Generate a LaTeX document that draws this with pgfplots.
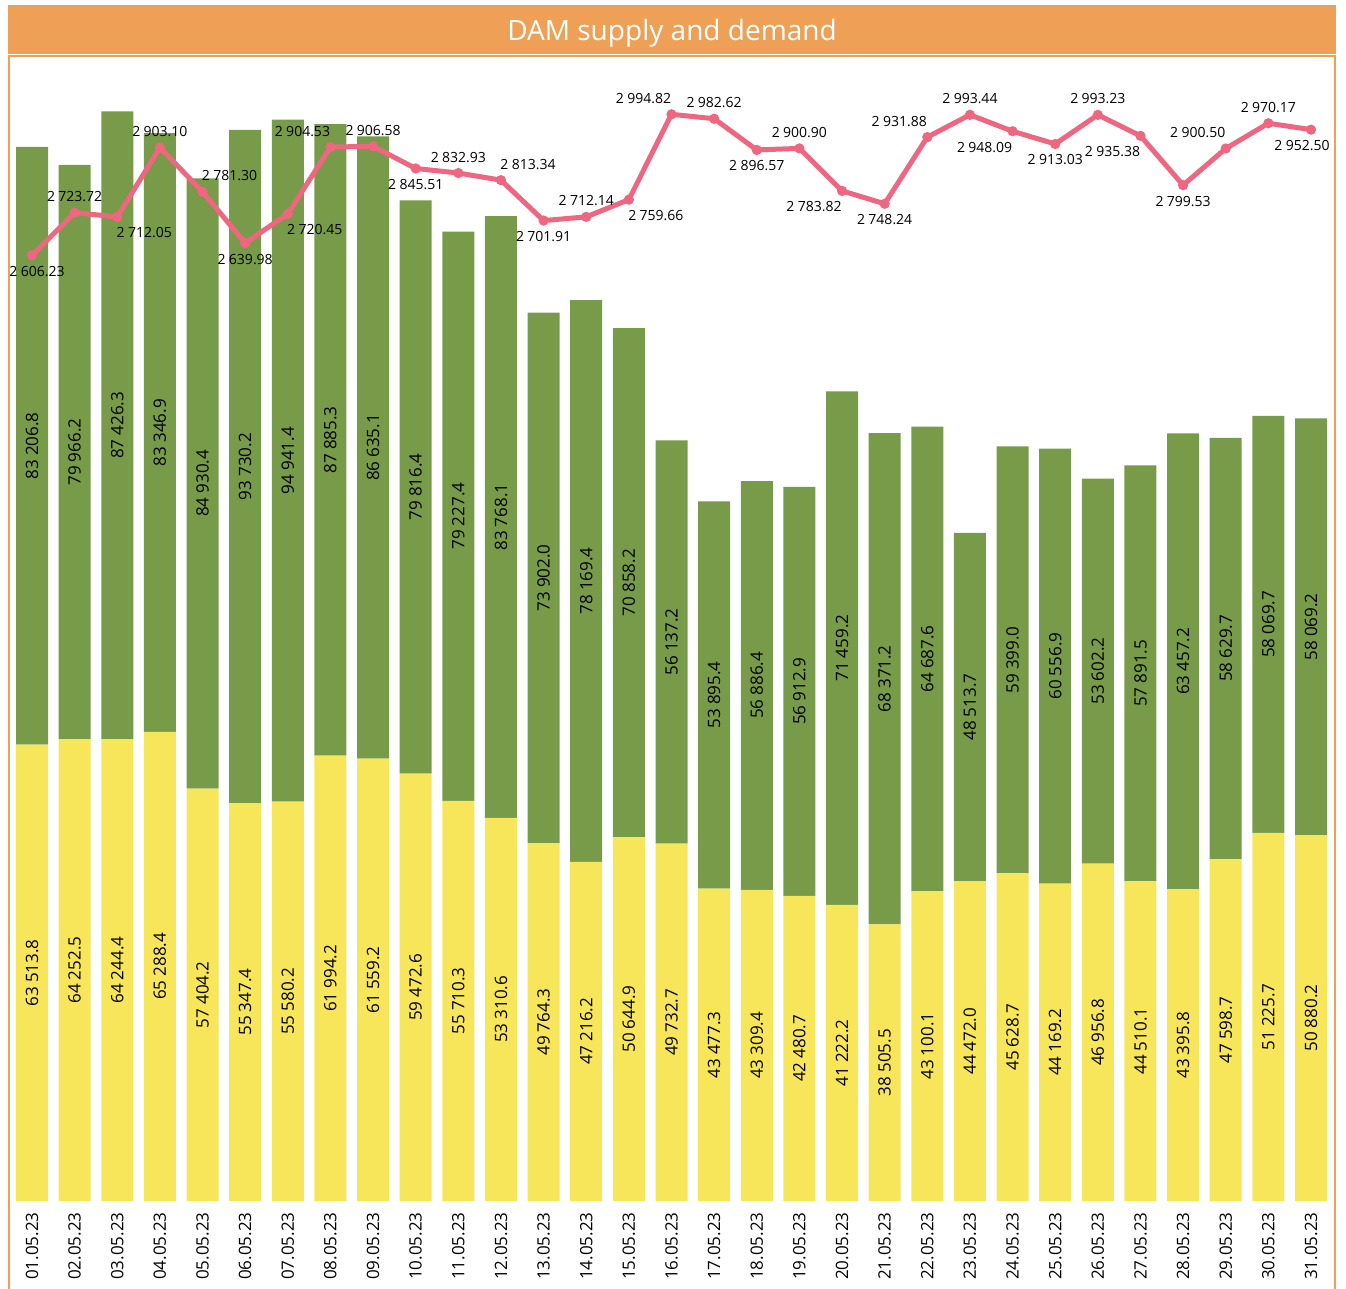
\documentclass[border=0pt]{standalone}
\usepackage{fontspec}
\setmainfont{Open Sans}
\usepackage{pgfplots}
\pgfplotsset{compat=1.18}
\usepackage{pgfplotstable}
\definecolor{ttl}{HTML}{EEA056}
\definecolor{grn}{HTML}{779B48}
\definecolor{ylw}{HTML}{F7E65A}
\definecolor{pnk}{HTML}{EF6681}

\pgfplotstableread{
x d s
0 63513.8 83206.8
1 64252.5 79966.2
2 64244.4 87426.3
3 65288.4 83346.9
4 57404.2 84930.4
5 55347.4 93730.2
6 55580.2 94941.4
7 61994.2 87885.3
8 61559.2 86635.1
9 59472.6 79816.4
10 55710.3 79227.4
11 53310.6 83768.1
12 49764.3 73902.0
13 47216.2 78169.4
14 50644.9 70858.2
15 49732.7 56137.2
16 43477.3 53895.4
17 43309.4 56886.4
18 42480.7 56912.9
19 41222.2 71459.2
20 38505.5 68371.2
21 43100.1 64687.6
22 44472.0 48513.7
23 45628.7 59399.0
24 44169.2 60556.9
25 46956.8 53602.2
26 44510.1 57891.5
27 43395.8 63457.2
28 47598.7 58629.7
29 51225.7 58069.7
30 50880.2 58069.2
}\bars

\pgfplotstableread{
x y p xs
0 2606.23 -1 2.5
1 2723.72 1 0
2 2712.05 -1 13.5
3 2903.10 1 0
4 2781.30 1 13.5
5 2639.98 -1 0
6 2720.45 -1 13.5
7 2904.53 1 -14
8 2906.58 1 0
9 2845.51 -1 0
10 2832.93 1 0
11 2813.34 1 13.5
12 2701.91 -1 0
13 2712.14 1 0
14 2759.66 -1 13.5
15 2994.82 1 -14
16 2982.62 1 0
17 2896.57 -1 0
18 2900.90 1 0
19 2783.82 -1 -14
20 2748.24 -1 0
21 2931.88 1 -14
22 2993.44 1 0
23 2948.09 -1 -14
24 2913.03 -1 0
25 2993.23 1 0
26 2935.38 -1 -14
27 2799.53 -1 0
28 2900.50 1 -14
29 2970.17 1 0
30 2952.50 -1 -4.5
}\price

\pgfplotsset{base/.style={scale only axis, width=663pt, height=571.5pt,
  at={(0pt,0pt)}, anchor=south west, xmin=-0.5395, xmax=30.563,
  axis line style={draw=none}, tick style={draw=none}, ytick=\empty,
  clip=false, /pgf/number format/assume math mode=true}}

\begin{document}
\begin{tikzpicture}
\path[use as bounding box] (-4.5pt,-44pt) rectangle (668.5pt,600.5pt);
\fill[ttl] (-0.5pt,573.5pt) rectangle (663.5pt,598pt);
\node[text=white, font=\fontsize{14}{16}\selectfont] at (331.5pt,584pt) {DAM supply and demand};
\draw[ttl, line width=1pt] (0pt,-44pt) -- (0pt,572.3pt) -- (663pt,572.3pt) -- (663pt,-44pt);

\begin{axis}[base, ybar stacked, bar width=16pt, ymin=0, ymax=159100,
  xtick={0,...,30},
  xticklabels={01.05.23,02.05.23,03.05.23,04.05.23,05.05.23,06.05.23,07.05.23,08.05.23,09.05.23,10.05.23,11.05.23,12.05.23,13.05.23,14.05.23,15.05.23,16.05.23,17.05.23,18.05.23,19.05.23,20.05.23,21.05.23,22.05.23,23.05.23,24.05.23,25.05.23,26.05.23,27.05.23,28.05.23,29.05.23,30.05.23,31.05.23},
  xticklabel style={rotate=90, anchor=east, inner sep=0pt, font=\fontsize{8.5}{10}\selectfont},
  xticklabel shift=5.5pt]
\addplot[fill=ylw, draw=none] table[x=x, y=d]{\bars};
\addplot[fill=grn, draw=none] table[x=x, y=s]{\bars};
\end{axis}

\begin{axis}[base, ymin=0, ymax=159100, xtick=\empty,
  nodes near coords, point meta=explicit,
  every node near coord/.append style={rotate=90, anchor=center, text=black, font=\fontsize{8.5}{10}\selectfont},
  /pgf/number format/.cd, fixed, fixed zerofill, precision=1, 1000 sep={\kern0.24em}]
\addplot[draw=none, mark=none] table[x=x, y expr=\thisrow{d}/2, meta=d]{\bars};
\addplot[draw=none, mark=none] table[x=x, y expr=\thisrow{d}+\thisrow{s}/2, meta=s]{\bars};
\end{axis}

\begin{axis}[base, ymin=0, ymax=3150, xtick=\empty]
\addplot[pnk, line width=2.5pt, mark=*, mark size=2.3pt,
  mark options={line width=0.5pt, fill=pnk, draw=pnk}]
  table[x=x, y=y]{\price};
\end{axis}

\begin{axis}[base, ymin=0, ymax=3150, xtick=\empty,
  nodes near coords, point meta=explicit,
  every node near coord/.append style={anchor=center, text=black, font=\fontsize{7}{8}\selectfont},
  /pgf/number format/.cd, fixed, fixed zerofill, precision=2, 1000 sep={\kern0.24em}]
\addplot[draw=none, mark=none]
  table[x expr=\thisrow{x}+0.04691*\thisrow{xs}, y expr=\thisrow{y}+44.1*\thisrow{p}, meta=y]{\price};
\end{axis}
\end{tikzpicture}
\end{document}
